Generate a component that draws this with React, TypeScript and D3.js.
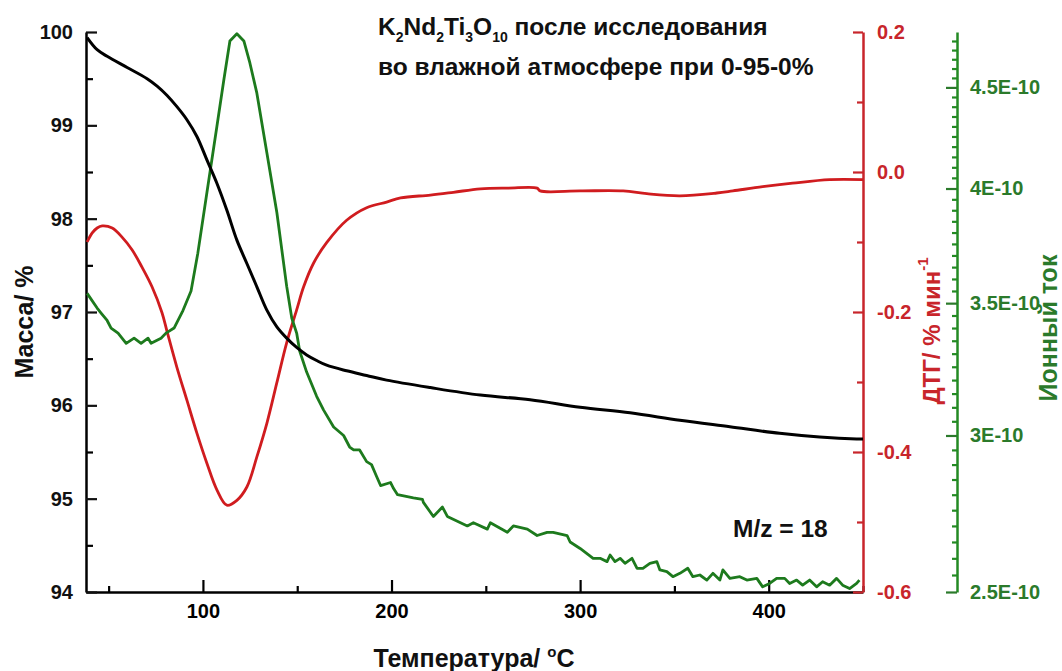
import { useEffect, useRef } from 'react';
import * as d3 from 'd3';

// mass loss, %
const massT = [38.6, 43.9, 49.2, 59.8, 70.4, 75.7, 81.0, 86.2, 91.5, 96.8, 102.1, 107.4, 112.7, 118.0, 123.3, 128.6, 133.9, 139.2, 144.4, 149.7, 155.0, 160.3, 165.6, 176.2, 186.8, 197.4, 220.6, 247.1, 273.5, 300, 326.5, 352.9, 379.4, 405.8, 427, 446.6, 450];
const massV = [99.94, 99.81, 99.74, 99.62, 99.50, 99.42, 99.32, 99.20, 99.06, 98.88, 98.63, 98.38, 98.09, 97.77, 97.52, 97.27, 97.02, 96.84, 96.72, 96.62, 96.54, 96.48, 96.43, 96.37, 96.32, 96.27, 96.19, 96.11, 96.06, 95.98, 95.92, 95.84, 95.77, 95.70, 95.66, 95.64, 95.64];

// DTG, %/min
const dtgT = [38.6, 41.3, 43.9, 46.6, 51.9, 57.1, 62.4, 67.7, 73.0, 78.3, 81.0, 86.2, 91.5, 96.8, 102.1, 107.4, 112.7, 118.0, 123.3, 128.6, 133.9, 139.2, 144.4, 149.7, 153.4, 158.7, 165.6, 176.2, 186.8, 197.4, 204.8, 220.6, 232.8, 247.1, 262, 277.2, 278.8, 300, 322.8, 335.4, 352.9, 372.5, 381, 396.8, 412.7, 432.3, 450];
const dtgV = [-0.100, -0.087, -0.080, -0.077, -0.080, -0.093, -0.111, -0.136, -0.164, -0.201, -0.228, -0.279, -0.326, -0.373, -0.416, -0.454, -0.476, -0.469, -0.450, -0.407, -0.359, -0.301, -0.244, -0.197, -0.164, -0.130, -0.101, -0.069, -0.051, -0.043, -0.037, -0.033, -0.029, -0.024, -0.023, -0.023, -0.027, -0.027, -0.027, -0.031, -0.034, -0.030, -0.027, -0.021, -0.016, -0.011, -0.011];

// ion current m/z = 18, x1E-10
const ionT = [38.6, 43.9, 46.0, 49.2, 51.3, 55.0, 59.3, 63.5, 67.2, 70.9, 72.5, 77.8, 80.4, 84.7, 89.4, 93.7, 97.3, 102.1, 107.4, 111.1, 114.3, 118.0, 121.7, 124.9, 128.6, 133.9, 139.2, 144.4, 147.1, 149.7, 151.3, 155.0, 160.3, 164.0, 169.3, 174.6, 177.8, 179.9, 183.1, 186.8, 189.4, 192.1, 194.2, 199.5, 201.1, 203.2, 211.6, 216.4, 216.9, 222.2, 227.0, 229.6, 240.2, 243.4, 250.8, 252.4, 261.4, 264.6, 272.0, 277.2, 282.5, 285.7, 293.1, 294.7, 300.0, 306.9, 310.6, 314.3, 315.9, 318.5, 321.2, 323.8, 327.5, 330.2, 333.3, 337.0, 340.7, 342.3, 346.0, 349.2, 352.9, 357.1, 359.8, 363.5, 367.2, 370.4, 374.1, 375.7, 379.4, 384.7, 388.4, 393.7, 396.8, 400.5, 404.2, 408.5, 411.1, 414.8, 418.0, 421.7, 425.4, 428.6, 432.3, 436.0, 439.2, 442.9, 446.6, 448.1];
const ionV = [3.54, 3.48, 3.46, 3.43, 3.40, 3.38, 3.34, 3.36, 3.34, 3.36, 3.34, 3.36, 3.38, 3.40, 3.47, 3.55, 3.71, 3.98, 4.30, 4.54, 4.75, 4.79, 4.75, 4.63, 4.47, 4.17, 3.89, 3.57, 3.44, 3.38, 3.31, 3.23, 3.14, 3.09, 3.03, 3.00, 2.96, 2.95, 2.95, 2.91, 2.90, 2.86, 2.83, 2.84, 2.82, 2.80, 2.79, 2.785, 2.775, 2.73, 2.76, 2.73, 2.70, 2.71, 2.69, 2.71, 2.68, 2.70, 2.69, 2.67, 2.68, 2.68, 2.67, 2.65, 2.63, 2.60, 2.60, 2.59, 2.61, 2.59, 2.60, 2.585, 2.60, 2.57, 2.57, 2.585, 2.59, 2.565, 2.56, 2.545, 2.555, 2.57, 2.545, 2.55, 2.535, 2.555, 2.535, 2.565, 2.54, 2.545, 2.535, 2.54, 2.515, 2.525, 2.54, 2.54, 2.525, 2.535, 2.52, 2.535, 2.515, 2.53, 2.52, 2.54, 2.52, 2.51, 2.525, 2.535];

const tempTicks = [100, 200, 300, 400];
const tempMinor = [50, 150, 250, 350, 450];
const massTicks = [94, 95, 96, 97, 98, 99, 100];
const massMinor = [94.5, 95.5, 96.5, 97.5, 98.5, 99.5];
const dtgTicks = [-0.6, -0.4, -0.2, 0.0, 0.2];
const dtgMinor = [-0.5, -0.3, -0.1, 0.1];
const ionTicks = [2.5, 3, 3.5, 4, 4.5];
const ionMinor = d3.range(2.55, 4.8, 0.05).filter((v) => Math.abs(v * 2 - Math.round(v * 2)) > 0.01);

const FONT = '"Liberation Sans", Arial, sans-serif';
const RED = '#c8252b';
const GREEN = '#238a23';

export default function App() {
  const ref = useRef<SVGSVGElement>(null);

  useEffect(() => {
    const svg = d3.select(ref.current);
    svg.selectAll('*').remove();

    const left = 86;
    const right = 863;
    const top = 32;
    const bottom = 592;
    const ionX = 957;

    const x = d3.scaleLinear().domain([38, 450]).range([left, right]);
    const yMass = d3.scaleLinear().domain([94, 100]).range([bottom, top]);
    const yDtg = d3.scaleLinear().domain([-0.6, 0.2]).range([bottom, top]);
    const yIon = d3.scaleLog().domain([2.5, 4.8]).range([bottom, top]);

    const styleAxis = (g, color) => {
      g.selectAll('path').attr('stroke', color).attr('stroke-width', 2.5);
      g.selectAll('line').attr('stroke', color).attr('stroke-width', 2.2);
      g.selectAll('text')
        .attr('fill', color)
        .attr('font-family', FONT)
        .attr('font-weight', 'bold')
        .attr('font-size', 20);
    };

    // bottom axis
    svg.append('g')
      .attr('transform', `translate(0,${bottom})`)
      .call(d3.axisBottom(x).tickValues(tempMinor).tickSize(-6).tickSizeOuter(0).tickFormat(() => ''))
      .call((g) => styleAxis(g, '#000'));
    svg.append('g')
      .attr('transform', `translate(0,${bottom})`)
      .call(d3.axisBottom(x).tickValues(tempTicks).tickSize(-12).tickSizeOuter(0).tickPadding(12))
      .call((g) => styleAxis(g, '#000'))
      .call((g) => g.select('path').remove());

    // left axis (mass)
    svg.append('g')
      .attr('transform', `translate(${left},0)`)
      .call(d3.axisLeft(yMass).tickValues(massMinor).tickSize(-7).tickSizeOuter(0).tickFormat(() => ''))
      .call((g) => styleAxis(g, '#000'));
    svg.append('g')
      .attr('transform', `translate(${left},0)`)
      .call(d3.axisLeft(yMass).tickValues(massTicks).tickSize(-11).tickSizeOuter(0).tickPadding(13).tickFormat(d3.format('d')))
      .call((g) => styleAxis(g, '#111'))
      .call((g) => g.select('path').remove());

    // right axis (DTG)
    svg.append('g')
      .attr('transform', `translate(${right},0)`)
      .call(d3.axisRight(yDtg).tickValues(dtgMinor).tickSize(-6).tickSizeOuter(0).tickFormat(() => ''))
      .call((g) => styleAxis(g, RED));
    svg.append('g')
      .attr('transform', `translate(${right},0)`)
      .call(d3.axisRight(yDtg).tickValues(dtgTicks).tickSize(-10).tickSizeOuter(0).tickPadding(14).tickFormat((d) => d.toFixed(1)))
      .call((g) => styleAxis(g, RED))
      .call((g) => g.select('path').remove());

    // second right axis (ion current)
    svg.append('g')
      .attr('transform', `translate(${ionX},0)`)
      .call(d3.axisRight(yIon).tickValues(ionMinor).tickSize(-5).tickSizeOuter(0).tickFormat(() => ''))
      .call((g) => styleAxis(g, GREEN));
    svg.append('g')
      .attr('transform', `translate(${ionX},0)`)
      .call(d3.axisRight(yIon).tickValues(ionTicks).tickSize(-11).tickSizeOuter(0).tickPadding(13).tickFormat((d) => `${d}E-10`))
      .call((g) => styleAxis(g, '#2b7a2b'))
      .call((g) => g.select('path').remove());

    // curves
    const smooth = (ys) => d3.line().curve(d3.curveCatmullRom).x((d) => x(d[0])).y((d) => ys(d[1]));
    const jagged = (ys) => d3.line().x((d) => x(d[0])).y((d) => ys(d[1]));

    svg.append('path')
      .datum(dtgT.map((t, i) => [t, dtgV[i]]))
      .attr('d', smooth(yDtg))
      .attr('fill', 'none')
      .attr('stroke', '#d01c1f')
      .attr('stroke-width', 2.8);

    svg.append('path')
      .datum(ionT.map((t, i) => [t, ionV[i]]))
      .attr('d', jagged(yIon))
      .attr('fill', 'none')
      .attr('stroke', '#1d7a1d')
      .attr('stroke-width', 2.8)
      .attr('stroke-linejoin', 'round');

    svg.append('path')
      .datum(massT.map((t, i) => [t, massV[i]]))
      .attr('d', smooth(yMass))
      .attr('fill', 'none')
      .attr('stroke', '#000')
      .attr('stroke-width', 3);

    // axis titles
    const txt = (sel) => sel.attr('font-family', FONT).attr('font-weight', 'bold');

    const xt = svg.append('text').attr('x', 474).attr('y', 667).attr('text-anchor', 'middle')
      .attr('font-size', 25).attr('fill', '#111').call(txt);
    xt.append('tspan').text('Температура/ ');
    xt.append('tspan').attr('font-size', 15).attr('dy', -10).text('o');
    xt.append('tspan').attr('dy', 10).text('C');

    svg.append('text').attr('transform', 'translate(33,322) rotate(-90)').attr('text-anchor', 'middle')
      .attr('font-size', 25).attr('fill', '#111').call(txt).text('Масса/ %');

    const rt = svg.append('text').attr('transform', 'translate(940,331) rotate(-90)').attr('text-anchor', 'middle')
      .attr('font-size', 24).attr('fill', RED).call(txt);
    rt.append('tspan').text('ДТГ/ % мин');
    rt.append('tspan').attr('font-size', 15).attr('dy', -12).text('-1');

    svg.append('text').attr('transform', 'translate(1057,328) rotate(-90)').attr('text-anchor', 'middle')
      .attr('font-size', 25).attr('fill', '#2b7a2b').call(txt).text('Ионный ток');

    // title
    const t1 = svg.append('text').attr('x', 378).attr('y', 35).attr('font-size', 24.5).attr('fill', '#111').call(txt);
    const parts = [['K', '2'], ['Nd', '2'], ['Ti', '3'], ['O', '10']];
    parts.forEach(([a, b], i) => {
      t1.append('tspan').attr('dy', i === 0 ? 0 : -7).text(a);
      t1.append('tspan').attr('font-size', 14).attr('dy', 7).text(b);
    });
    t1.append('tspan').attr('dy', -7).text(' после исследования');

    svg.append('text').attr('x', 378).attr('y', 75).attr('font-size', 24.5).attr('fill', '#111').call(txt)
      .text('во влажной атмосфере при 0-95-0%');

    svg.append('text').attr('x', 733).attr('y', 537).attr('font-size', 24.5).attr('fill', '#111').call(txt)
      .text('M/z = 18');
  }, []);

  return (
    <svg
      ref={ref}
      width={1062}
      height={671}
      style={{ position: 'absolute', left: 0, top: 0, background: '#fff' }}
    ></svg>
  );
}
